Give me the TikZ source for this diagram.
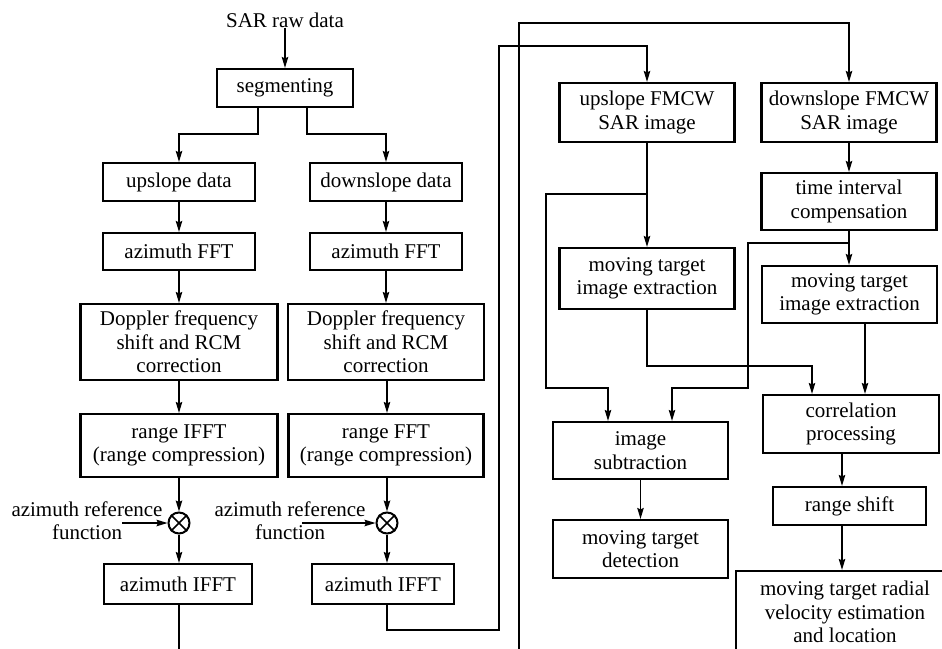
\documentclass[tikz,border=0pt]{standalone}
\usepackage{fontspec}
\setmainfont{Liberation Serif}
\usetikzlibrary{arrows.meta,calc}
\tikzset{
  box/.style={draw, line width=2.2pt, align=center, inner sep=0pt, font=\fontsize{21}{23.5}\selectfont},
  lbl/.style={align=center, inner sep=0pt, font=\fontsize{21}{23.5}\selectfont},
  conn/.style={line width=1.3pt, -{Stealth[length=11pt,width=6.5pt,inset=1.5pt]}},
  wire/.style={line width=1.3pt},
  mult/.style={draw, circle, line width=2pt, minimum size=21pt, inner sep=0pt},
  crossx/.style={line width=1.5pt},
}
\begin{document}
\begin{tikzpicture}[x=1pt,y=-1pt]
\useasboundingbox (0,0) rectangle (942,648);
\begin{scope}
\clip (0,0) rectangle (942,648);
% left part
\node[lbl] (sar) at (285,20) {SAR raw data};
\node[box, minimum width=136pt, minimum height=38pt] (seg) at (285,88) {segmenting};
\node[box, minimum width=152pt, minimum height=38pt] (up) at (179,182) {upslope data};
\node[box, minimum width=152pt, minimum height=38pt] (down) at (386,182) {downslope data};
\node[box, minimum width=152pt, minimum height=37pt] (az1) at (179,251.5) {azimuth FFT};
\node[box, minimum width=152pt, minimum height=37pt] (az2) at (386,251.5) {azimuth FFT};
\node[box, minimum width=197pt, minimum height=76pt] (dop1) at (179,342) {Doppler frequency\\shift and RCM\\correction};
\node[box, minimum width=196pt, minimum height=76pt] (dop2) at (386,342) {Doppler frequency\\shift and RCM\\correction};
\node[box, minimum width=197pt, minimum height=63pt] (rif) at (179,445.5) {range IFFT\\(range compression)};
\node[box, minimum width=195pt, minimum height=63pt] (rf) at (386,445.5) {range FFT\\(range compression)};
\node[mult] (m1) at (179,523) {};
\node[mult] (m2) at (387,523) {};
\draw[crossx] (m1.45) -- (m1.225) (m1.135) -- (m1.315);
\draw[crossx] (m2.45) -- (m2.225) (m2.135) -- (m2.315);
\node[lbl] (ref1) at (87,520.5) {azimuth reference\\function};
\node[lbl] (ref2) at (290,520.5) {azimuth reference\\function};
\node[box, minimum width=148pt, minimum height=40pt] (aif1) at (178,584) {azimuth IFFT};
\node[box, minimum width=142pt, minimum height=40pt] (aif2) at (383,584) {azimuth IFFT};
% right part
\node[box, minimum width=175pt, minimum height=59pt] (uimg) at (647,112.5) {upslope FMCW\\SAR image};
\node[box, minimum width=175pt, minimum height=59pt] (dimg) at (849,112.5) {downslope FMCW\\SAR image};
\node[box, minimum width=175pt, minimum height=57pt] (tic) at (849,201.5) {time interval\\compensation};
\node[box, minimum width=175pt, minimum height=61pt] (mte1) at (647,278.5) {moving target\\image extraction};
\node[box, minimum width=175pt, minimum height=57pt] (mte2) at (849.5,294.5) {moving target\\image extraction};
\node[box, minimum width=176pt, minimum height=58pt] (corr) at (851,424) {correlation\\processing};
\node[box, minimum width=175pt, minimum height=57pt] (isub) at (640.5,450.5) {image\\subtraction};
\node[box, minimum width=175pt, minimum height=58pt] (mtd) at (640.5,549) {moving target\\detection};
\node[box, minimum width=153pt, minimum height=38pt] (rs) at (849.5,506) {range shift};
\node[box, minimum width=218pt, minimum height=82pt] (fin) at (845,612) {moving target radial\\velocity estimation\\and location};
% left connectors
\draw[conn] (sar.south) -- (sar.south |- seg.north);
\draw[conn] ($(seg.south)+(-27,0)$) -- ++(0,26) -| (up.north);
\draw[conn] ($(seg.south)+(22,0)$) -- ++(0,26) -| (down.north);
\draw[conn] (up) -- (az1);
\draw[conn] (down) -- (az2);
\draw[conn] (az1) -- (dop1);
\draw[conn] (az2) -- (dop2);
\draw[conn] (dop1) -- (rif);
\draw[conn] (dop2.south -| m2) -- (rf.north -| m2);
\draw[conn] (rif.south -| m1) -- (m1.north);
\draw[conn] (rf.south -| m2) -- (m2.north);
\draw[conn] (m1.south) -- (aif1.north -| m1);
\draw[conn] (m2.south) -- (aif2.north -| m2);
\coordinate (r1s) at (122,523);
\coordinate (r2s) at (302,523);
\draw[conn] (r1s) -- (m1.west);
\draw[conn] (r2s) -- (m2.west);
% long loops
\coordinate (b1) at (179,668);
\coordinate (b2) at (519,668);
\coordinate (t1) at (519,23);
\draw[conn] (aif1.south -| m1) -- (b1) -- (b2) -- (t1) -| (dimg.north);
\coordinate (c1) at (499,630);
\coordinate (c2) at (499,46);
\draw[conn] (aif2.south -| m2) |- (c1) -- (c2) -| (uimg.north);
% right connectors
\draw[conn] (dimg) -- (tic);
\draw[conn] (uimg) -- (mte1);
\draw[conn] (tic.south) -- (tic.south |- mte2.north);
\coordinate (br1) at (647,194);
\coordinate (br1a) at (546,388);
\coordinate (k1) at (608,388);
\draw[conn] (br1) -| (br1a) -- (k1) -- (k1 |- isub.north);
\coordinate (br2) at (849,243);
\coordinate (br2a) at (748,388);
\coordinate (k2) at (672,388);
\draw[conn] (br2) -| (br2a) -- (k2) -- (k2 |- isub.north);
\coordinate (k3) at (812,366);
\draw[conn] (mte1.south) |- (k3) -- (k3 |- corr.north);
\coordinate (k4) at (865,0);
\draw[conn] (mte2.south -| k4) -- (corr.north -| k4);
\coordinate (k5) at (842,0);
\draw[conn] (corr.south -| k5) -- (rs.north -| k5);
\draw[conn] (rs.south -| k5) -- (fin.north -| k5);
\draw[conn] (isub) -- (mtd);
\end{scope}
\end{tikzpicture}
\end{document}
